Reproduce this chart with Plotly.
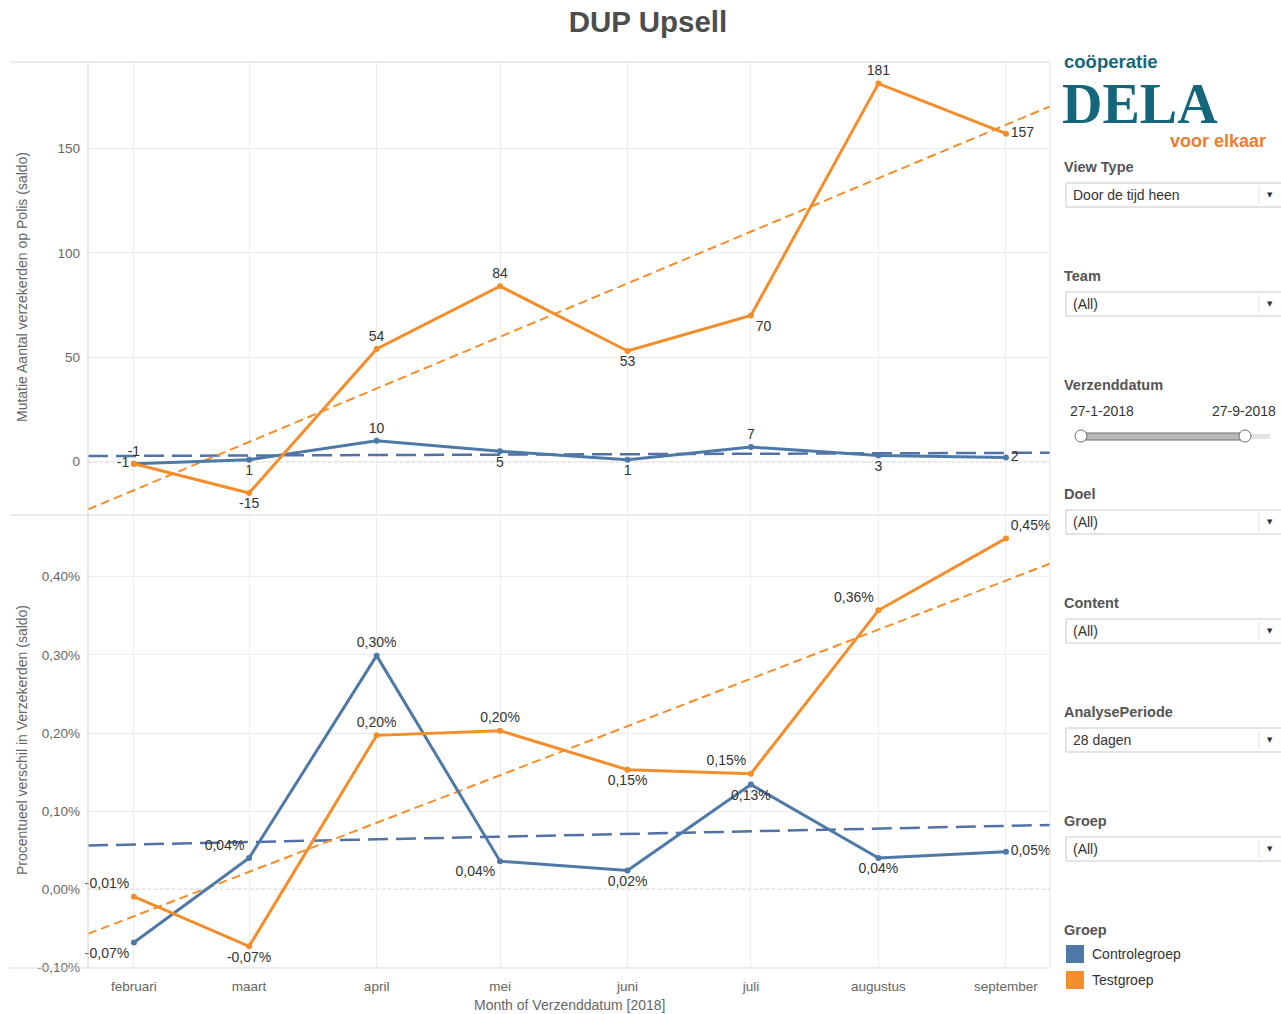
import numpy as np
import pandas as pd
import plotly.graph_objects as go

# ---------------- data ----------------
months = ["2018-02-01", "2018-03-01", "2018-04-01", "2018-05-01",
          "2018-06-01", "2018-07-01", "2018-08-01", "2018-09-01"]
month_labels = ["februari", "maart", "april", "mei", "juni", "juli", "augustus", "september"]
groups = ["Controlegroep", "Testgroep"]
ctrl_count = [-1, 1, 10, 5, 1, 7, 3, 2]
test_count = [-1, -15, 54, 84, 53, 70, 181, 157]
ctrl_pct = [-0.068, 0.040, 0.299, 0.036, 0.024, 0.134, 0.040, 0.048]
test_pct = [-0.0095, -0.073, 0.197, 0.203, 0.153, 0.148, 0.357, 0.449]
count_ticks = [0, 50, 100, 150]
pct_ticks = [-0.1, 0.0, 0.1, 0.2, 0.3, 0.4]
pct_tick_labels = ["-0,10%", "0,00%", "0,10%", "0,20%", "0,30%", "0,40%"]
filters = [("View Type", "Door de tijd heen"), ("Team", "(All)"),
           ("Doel", "(All)"), ("Content", "(All)"),
           ("AnalysePeriode", "28 dagen"), ("Groep", "(All)")]
date_from, date_to = "27-1-2018", "27-9-2018"

# ---------------- style ----------------
BLUE = "#4e79a7"
ORANGE = "#f28e2b"
FONT = "Liberation Sans, Arial, sans-serif"
GRID = "#ececec"
TICKC = "#666666"
LABC = "#333333"
FS = 14

x_range = ["2018-01-20 20:00", "2018-09-11 17:00"]

# pixel helpers (plot area: x 88..1050, y 62..968)
L, R, T, B = 88, 1050, 62, 968
def px(x):
    return (x - L) / (R - L)
def py(y):
    return (B - y) / (B - T)

dates = pd.to_datetime(months)
days = (dates - dates[0]).days.values.astype(float)
xr = pd.to_datetime(x_range)
xr_days = (xr - dates[0]) / pd.Timedelta(days=1)

def trend(vals):
    k, b = np.polyfit(days, np.array(vals, dtype=float), 1)
    return [k * d + b for d in xr_days]

fig = go.Figure()

def add_series(vals, color, text, tpos, xa, ya):
    fig.add_trace(go.Scatter(
        x=dates, y=vals, mode="lines+markers+text", xaxis=xa, yaxis=ya,
        line=dict(color=color, width=3), marker=dict(color=color, size=6),
        text=text, textposition=tpos,
        textfont=dict(family=FONT, size=FS, color=LABC),
        showlegend=False, cliponaxis=False))

def add_trend(vals, color, width, dash, xa, ya):
    fig.add_trace(go.Scatter(
        x=xr, y=trend(vals), mode="lines", xaxis=xa, yaxis=ya,
        line=dict(color=color, width=width, dash=dash),
        showlegend=False, hoverinfo="skip"))

def pct_text(v):
    return f"{v:.2f}".replace(".", ",") + "%"

# top panel
add_trend(ctrl_count, "#5272a6", 2.5, "20px,8px", "x", "y")
add_trend(test_count, ORANGE, 2, "9px,5px", "x", "y")
add_series(ctrl_count, BLUE, [str(v) for v in ctrl_count],
           ["middle left", "bottom center", "top center", "bottom center",
            "bottom center", "top center", "bottom center", "middle right"], "x", "y")
add_series(test_count, ORANGE, [str(v) for v in test_count],
           ["top center", "bottom center", "top center", "top center",
            "bottom center", "bottom right", "top center", "middle right"], "x", "y")

# bottom panel
add_trend(ctrl_pct, "#5272a6", 2.5, "20px,8px", "x2", "y2")
add_trend(test_pct, ORANGE, 2, "9px,5px", "x2", "y2")
add_series(ctrl_pct, BLUE, [pct_text(v) for v in ctrl_pct],
           ["bottom left", "top left", "top center", "bottom left",
            "bottom center", "bottom center", "bottom center", "middle right"], "x2", "y2")
add_series(test_pct, ORANGE, [pct_text(v) for v in test_pct],
           ["top left", "bottom center", "top center", "top center",
            "bottom center", "top left", "top left", "top right"], "x2", "y2")

axis_common = dict(showline=False, zeroline=False, gridcolor=GRID, gridwidth=1,
                   tickfont=dict(family=FONT, size=13.5, color=TICKC), ticks="")

fig.update_layout(
    width=1281, height=1014,
    margin=dict(l=L, r=1281 - R, t=T, b=1014 - B),
    paper_bgcolor="white", plot_bgcolor="white",
    font=dict(family=FONT, color=LABC),
    showlegend=False,
    title=dict(text="<b>DUP Upsell</b>", x=648 / 1281, xanchor="center",
               y=1 - 22 / 1014, yanchor="middle",
               font=dict(family=FONT, size=29.5, color="#4d4d4d")),
    xaxis=dict(type="date", range=x_range, domain=[0, 1], anchor="y",
               tickvals=dates, ticktext=month_labels, showticklabels=False,
               **axis_common),
    yaxis=dict(domain=[py(515), 1], range=[-25.5, 191.3], tickvals=count_ticks,
               ticklabelstandoff=7, **axis_common),
    xaxis2=dict(type="date", range=x_range, domain=[0, 1], anchor="y2",
                tickvals=dates, ticktext=month_labels, ticklabelstandoff=8,
                **axis_common),
    yaxis2=dict(domain=[0, py(517)], range=[-0.1007, 0.4764], tickvals=pct_ticks,
                ticktext=pct_tick_labels, ticklabelstandoff=7, **axis_common),
)

shapes = []
ann = []

def text(t, x, y, size, color, xanchor="left", family=FONT, angle=0):
    ann.append(dict(text=t, xref="paper", yref="paper", x=px(x), y=py(y),
                    xanchor=xanchor, yanchor="middle", showarrow=False, textangle=angle,
                    font=dict(family=family, size=size, color=color)))

BORDER = "#d9d9d9"
# panel frame lines
for yy in (T, 515, B):
    shapes.append(dict(type="line", xref="paper", yref="paper",
                       x0=px(10), x1=px(R), y0=py(yy), y1=py(yy),
                       line=dict(color=BORDER, width=1.2)))
shapes.append(dict(type="line", xref="paper", yref="paper", x0=0, x1=0,
                   y0=0, y1=1, line=dict(color=BORDER, width=1.2)))
shapes.append(dict(type="line", xref="paper", yref="paper", x0=1, x1=1,
                   y0=0, y1=1, line=dict(color="#e6e6e6", width=1)))
# dotted zero lines
shapes.append(dict(type="line", xref="x domain", yref="y", x0=0, x1=1, y0=0, y1=0,
                   line=dict(color="#8a8a8a", width=1, dash="dot"), layer="below"))
shapes.append(dict(type="line", xref="x2 domain", yref="y2", x0=0, x1=1, y0=0, y1=0,
                   line=dict(color="#8a8a8a", width=1, dash="dot"), layer="below"))

# axis titles
text("Mutatie Aantal verzekerden op Polis (saldo)", 22, 287, 14, TICKC, "center", angle=-90)
text("Procentueel verschil in Verzekerden (saldo)", 22, 740, 14, TICKC, "center", angle=-90)
text("Month of Verzenddatum [2018]", 569, 1005, 14, TICKC, "center")

# logo
TEAL = "#14677a"
text("<b>coöperatie</b>", 1062, 61, 18.5, TEAL)
text("<b>DELA</b>", 1060, 104, 56, TEAL, family="Liberation Serif, DejaVu Serif, serif")
text("<b>voor elkaar</b>", 1268, 141, 18, "#ee7d31", "right")

# filter widgets
LBLC = "#555555"
label_ys = [167, 276, 494, 603, 712, 821]
for (lab, val), ly in zip(filters, label_ys):
    text("<b>" + lab + "</b>", 1062, ly, 14.5, LBLC)
    top = ly + 16
    shapes.append(dict(type="rect", xref="paper", yref="paper",
                       x0=px(1066), x1=px(1290), y0=py(top), y1=py(top + 24),
                       line=dict(color="#c9c9c9", width=1), fillcolor="white"))
    shapes.append(dict(type="line", xref="paper", yref="paper",
                       x0=px(1259), x1=px(1259), y0=py(top + 3), y1=py(top + 21),
                       line=dict(color="#dddddd", width=1)))
    text(val, 1071, top + 12, 14, LABC)
    text("▼", 1270, top + 12, 7, "#333333", "center", family="DejaVu Sans")

# date slider
text("<b>Verzenddatum</b>", 1062, 385, 14.5, LBLC)
text(date_from, 1068, 411, 14, LABC)
text(date_to, 1278, 411, 14, LABC, "right")
shapes.append(dict(type="rect", xref="paper", yref="paper", x0=px(1240), x1=px(1270),
                   y0=py(434), y1=py(439), line=dict(width=0), fillcolor="#e3e3e3"))
shapes.append(dict(type="rect", xref="paper", yref="paper", x0=px(1082), x1=px(1244),
                   y0=py(433), y1=py(440), line=dict(color="#6f6f6f", width=1),
                   fillcolor="#b9b9b9"))
for hx in (1081, 1245):
    shapes.append(dict(type="circle", xref="paper", yref="paper", x0=px(hx - 6), x1=px(hx + 6),
                       y0=py(430), y1=py(442), line=dict(color="#6f6f6f", width=1),
                       fillcolor="white"))

# colour legend
text("<b>Groep</b>", 1062, 930, 14.5, LBLC)
for g, c, ly in zip(groups, [BLUE, ORANGE], [954, 980]):
    shapes.append(dict(type="rect", xref="paper", yref="paper", x0=px(1066), x1=px(1084),
                       y0=py(ly - 9), y1=py(ly + 9), line=dict(width=0), fillcolor=c))
    text(g, 1090, ly, 14, LABC)

fig.update_layout(shapes=shapes, annotations=ann)
fig.write_html("out.html")
